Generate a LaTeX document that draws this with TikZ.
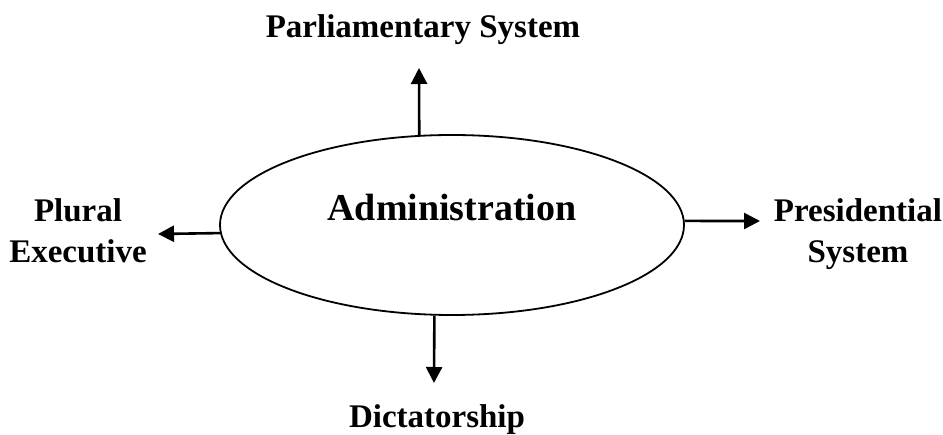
\documentclass[tikz,border=0pt]{standalone}
\usepackage{fontspec}
\setmainfont{Liberation Serif}
\usetikzlibrary{shapes.geometric,arrows.meta}
\begin{document}
\begin{tikzpicture}[x=1pt,y=-1pt,>={Triangle[width=16pt,length=16pt]}]
        \tikzstyle{ell}=[ellipse,draw=black,line width=1.8pt,minimum width=464pt,minimum height=180pt,inner sep=0pt]
        \tikzstyle{lbl}=[font=\fontsize{33}{41}\selectfont\bfseries,align=center,inner sep=0pt,anchor=base]
        \tikzstyle{big}=[font=\fontsize{38}{44}\selectfont\bfseries,inner sep=0pt,anchor=base]
        \tikzstyle{arr}=[draw,->,line width=2.6pt]
        \useasboundingbox (0,0) rectangle (943,435);
         \node [ell] (admin) at (452,225) {};
         \node [big] (admintxt) at (452,221) {Administration};
         \node [lbl] (parl) at (423,38) {Parliamentary System};
         \node [lbl] (plural) at (78,263) {Plural\\Executive};
         \node [lbl] (pres) at (858,263) {Presidential\\System};
         \node [lbl] (dict) at (437,428) {Dictatorship};
         \coordinate (uptip) at (419,68);
         \coordinate (lefttip) at (158,234);
         \coordinate (righttip) at (760,221);
         \coordinate (downtip) at (434,383);
         \path[arr] (admin.110) -- (uptip);
         \path[arr] (admin.182) -- (lefttip);
         \path[arr] (admin.1) -- (righttip);
         \path[arr] (admin.259) -- (downtip);
\end{tikzpicture}
\end{document}
